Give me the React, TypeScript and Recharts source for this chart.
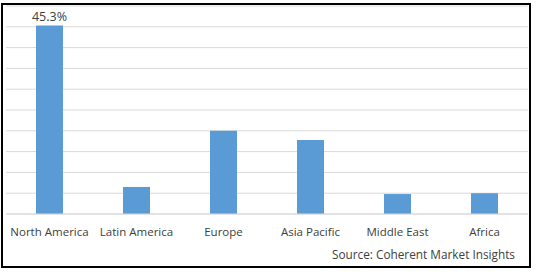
import { BarChart, Bar, XAxis, YAxis, CartesianGrid, LabelList } from "recharts";

const regions = [
  "North America",
  "Latin America",
  "Europe",
  "Asia Pacific",
  "Middle East",
  "Africa",
];
const shares = [45.3, 6.5, 20.0, 17.8, 4.8, 5.0];
const shareLabels = ["45.3%", "", "", "", "", ""];
const yTicks = [0, 5, 10, 15, 20, 25, 30, 35, 40, 45, 50];

const data = regions.map((region, i) => ({
  region,
  share: shares[i],
  label: shareLabels[i] || undefined,
}));

const FONT = "'Open Sans', sans-serif";
const TEXT = "#404040";

export default function App() {
  return (
    <div
      style={{
        position: "absolute",
        left: 0,
        top: 0,
        width: 538,
        height: 272,
        background: "#fff",
        fontFamily: FONT,
      }}
    >
      <div
        style={{
          position: "absolute",
          left: 1,
          top: 3,
          width: 526,
          height: 261,
          border: "2px solid #000",
        }}
      />
      <BarChart
        width={538}
        height={272}
        data={data}
        margin={{ top: 6, right: 10, bottom: 28, left: 6 }}
      >
        <CartesianGrid vertical={false} stroke="#d9d9d9" />
        <YAxis
          hide
          domain={[0, 50]}
          ticks={yTicks}
          tickCount={11}
          interval={0}
        />
        <XAxis
          dataKey="region"
          height={30}
          axisLine={{ stroke: "#d9d9d9" }}
          tickLine={false}
          tickMargin={8}
          interval={0}
          tick={{ fontSize: 11.5, fill: TEXT, fontFamily: FONT }}
        />
        <Bar dataKey="share" fill="#5b9bd5" barSize={27} isAnimationActive={false}>
          <LabelList
            dataKey="label"
            position="top"
            style={{ fontSize: 12.5, fill: TEXT, fontFamily: FONT }}
          />
        </Bar>
      </BarChart>
      <div
        style={{
          position: "absolute",
          right: 23,
          top: 246,
          fontSize: 11.8,
          color: TEXT,
          whiteSpace: "nowrap",
        }}
      >
        Source: Coherent Market Insights
      </div>
    </div>
  );
}
